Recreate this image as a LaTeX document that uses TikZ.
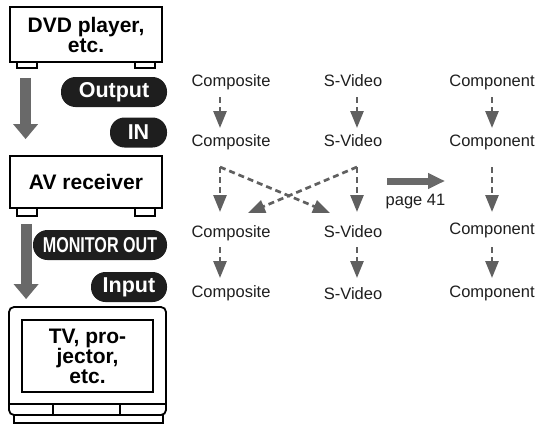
\documentclass[tikz,border=0pt]{standalone}
\usepackage{graphicx}
\usepackage{fontspec}
\setmainfont{Liberation Sans}
\usetikzlibrary{arrows.meta}
\definecolor{agray}{RGB}{96,96,96}
\definecolor{bgray}{RGB}{105,105,105}
\definecolor{txt}{RGB}{30,30,30}
\begin{document}
\begin{tikzpicture}[x=1pt,y=-1pt,
  lab/.style={font=\fontsize{16.5}{18}\selectfont, text=txt, inner sep=0pt, anchor=base},
  devbox/.style={draw=black, line width=1.8pt, fill=white, font=\fontsize{21}{20}\selectfont\bfseries, align=center, inner sep=0pt},
  foot/.style={draw=black, line width=1.5pt, fill=white},
  pill/.style={fill=txt, text=white, rounded corners=14.5pt, font=\fontsize{21.5}{22}\selectfont\bfseries, inner sep=0pt, minimum height=30pt},
  bigarr/.style={draw=bgray, line width=11pt, -{Triangle[length=15pt,width=24pt]}},
  dasharr/.style={draw=agray, line width=2.7pt, dash pattern=on 6pt off 4pt, -{Triangle[length=17pt,width=13pt]}},
]
\useasboundingbox (0,0) rectangle (540,428);

% ---- devices ----
\draw[foot] (17,60) rectangle (37,68);
\draw[foot] (135,60) rectangle (155,68);
\node[devbox, minimum width=152pt, minimum height=55pt] (dvd) at (86,34.5) {DVD player,\\etc.};

\draw[foot] (17,206) rectangle (37,216);
\draw[foot] (135,206) rectangle (155,216);
\node[devbox, minimum width=152pt, minimum height=52pt] (av) at (86,182) {AV receiver};

\draw[foot] (14,413) rectangle (163,423);
\node[draw=black, line width=1.8pt, fill=white, rounded corners=5pt, minimum width=157pt, minimum height=108pt, inner sep=0pt] (tv) at (87.5,361) {};
\node[draw=black, line width=1.5pt, minimum width=131pt, minimum height=72pt, inner sep=0pt, font=\fontsize{21}{19.5}\selectfont\bfseries, align=center] (tvs) at (87.5,356) {TV, pro-\\jector,\\etc.};
\draw[line width=1.5pt] (tv.west |- 0,404) -- (tv.east |- 0,404);
\draw[line width=1.5pt] (53,404) -- (53,415);
\draw[line width=1.5pt] (120,404) -- (120,415);

% ---- big gray arrows ----
\draw[bigarr] ([shift={(16.5pt,-15pt)}]dvd.south west) -- ([shift={(16.5pt,16pt)}]av.north west);
\draw[bigarr] ([shift={(17pt,-15pt)}]av.south west) -- ([shift={(18pt,7pt)}]tv.north west);

% ---- pills ----
\node[pill, minimum width=106pt] (pout) at (114,92) {Output};
\node[pill, minimum width=57pt] (pin) at (138.5,132.5) {IN};
\node[pill, minimum width=134pt] (pmon) at (100,245) {\scalebox{0.75}[1]{MONITOR OUT}};
\node[pill, minimum width=76pt] (pinp) at (129,287) {Input};

% ---- signal labels ----
\node[lab] (c1) at (231,86) {Composite};
\node[lab] (s1) at (353,86) {S-Video};
\node[lab] (k1) at (492,86) {Component};
\node[lab] (c2) at (231,146) {Composite};
\node[lab] (s2) at (353,146) {S-Video};
\node[lab] (k2) at (492,146) {Component};
\node[lab] (c3) at (231,237) {Composite};
\node[lab] (s3) at (353,237) {S-Video};
\node[lab] (k3) at (492,234) {Component};
\node[lab] (c4) at (231,297) {Composite};
\node[lab] (s4) at (353,299) {S-Video};
\node[lab] (k4) at (492,297) {Component};
\node[lab] (p41) at (415.5,205) {page 41};

% ---- dashed arrows ----
\draw[dasharr] ([shift={(-11pt,-11pt)}]c1.base) -- ([shift={(-11pt,18pt)}]c2.base);
\draw[dasharr] ([shift={(4pt,-11pt)}]s1.base) -- ([shift={(4pt,18pt)}]s2.base);
\draw[dasharr] ([shift={(0pt,-11pt)}]k1.base) -- ([shift={(0pt,18pt)}]k2.base);

\coordinate (cc) at ([shift={(-11pt,-21pt)}]c2.base);
\coordinate (sc) at ([shift={(4pt,-21pt)}]s2.base);
\draw[dasharr] (cc) -- ([shift={(-11pt,25pt)}]c3.base);
\draw[dasharr] (sc) -- ([shift={(4pt,25pt)}]s3.base);
\draw[dasharr] (cc) -- ([shift={(-23pt,24pt)}]s3.base);
\draw[dasharr] (sc) -- ([shift={(17pt,24pt)}]c3.base);
\draw[dasharr] ([shift={(0pt,-21pt)}]k2.base) -- ([shift={(0pt,22pt)}]k3.base);

\draw[dasharr] ([shift={(-11pt,-10pt)}]c3.base) -- ([shift={(-11pt,19pt)}]c4.base);
\draw[dasharr] ([shift={(4pt,-10pt)}]s3.base) -- ([shift={(4pt,21pt)}]s4.base);
\draw[dasharr] ([shift={(0pt,-13pt)}]k3.base) -- ([shift={(0pt,19pt)}]k4.base);

% ---- page 41 arrow ----
\draw[draw=bgray, line width=7pt, -{Triangle[length=17pt,width=15pt]}] ([shift={(-28.5pt,24pt)}]p41.base) -- ([shift={(29.5pt,24pt)}]p41.base);
\end{tikzpicture}
\end{document}
